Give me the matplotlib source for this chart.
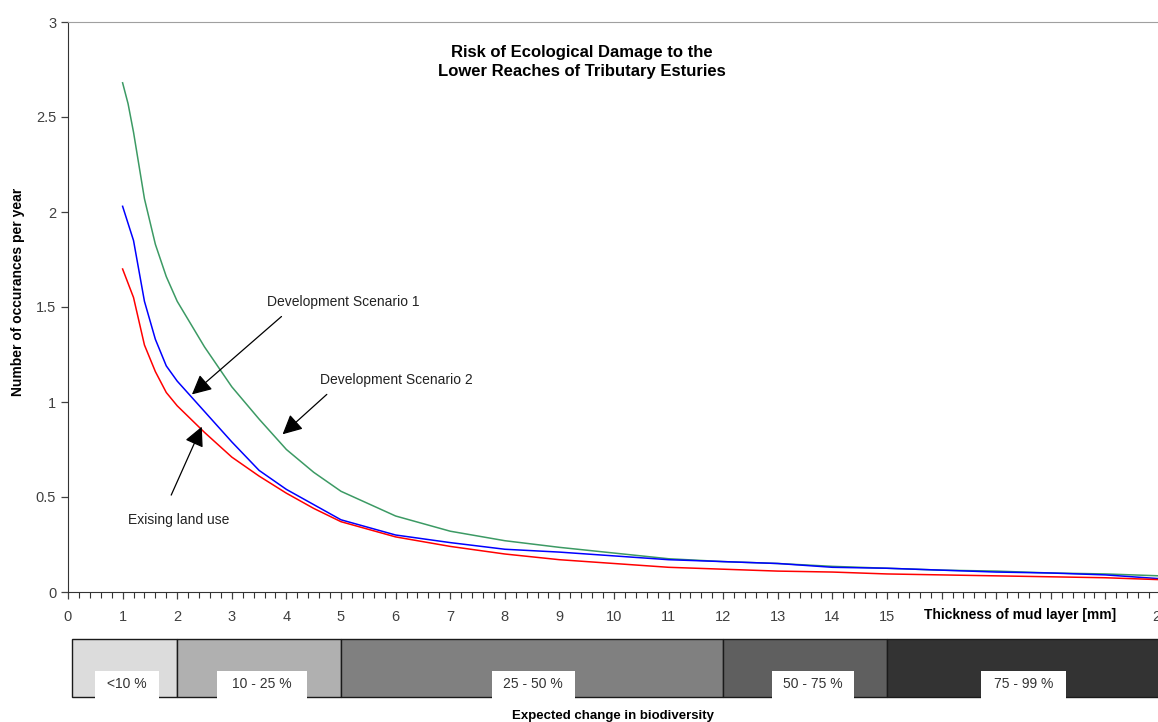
import matplotlib.pyplot as plt
from matplotlib.patches import Rectangle
from matplotlib.transforms import blended_transform_factory
import numpy as np

plt.rcParams['font.family'] = ['Liberation Sans', 'DejaVu Sans']

# mud thickness [mm] and occurrences per year
x_common = [1, 1.2, 1.4, 1.6, 1.8, 2, 2.5, 3, 3.5, 4, 4.5, 5,
            6, 7, 8, 9, 10, 11, 12, 13, 14, 15, 16, 17, 18, 19, 20]
existing = [1.70, 1.55, 1.30, 1.16, 1.05, 0.98, 0.84, 0.71, 0.61, 0.52, 0.44, 0.37,
            0.29, 0.24, 0.20, 0.17, 0.15, 0.13, 0.12, 0.11, 0.105, 0.095, 0.09, 0.085, 0.08, 0.075, 0.065]
scenario1 = [2.03, 1.85, 1.53, 1.33, 1.19, 1.11, 0.95, 0.79, 0.64, 0.54, 0.46, 0.38,
             0.30, 0.26, 0.225, 0.21, 0.19, 0.17, 0.16, 0.15, 0.13, 0.125, 0.115, 0.105, 0.10, 0.09, 0.07]
x_green = [1, 1.1, 1.2, 1.4, 1.6, 1.8, 2, 2.5, 3, 3.5, 4, 4.5, 5,
           6, 7, 8, 9, 10, 11, 12, 13, 14, 15, 16, 17, 18, 19, 20]
scenario2 = [2.68, 2.57, 2.42, 2.07, 1.83, 1.66, 1.53, 1.29, 1.08, 0.91, 0.75, 0.63, 0.53,
             0.40, 0.32, 0.27, 0.235, 0.205, 0.175, 0.16, 0.15, 0.135, 0.125, 0.115, 0.11, 0.10, 0.095, 0.085]

# biodiversity bands along the thickness axis
band_edges = [0.08, 2, 5, 12, 15, 20]
band_labels = ['<10 %', '10 - 25 %', '25 - 50 %', '50 - 75 %', '75 - 99 %']
band_colors = ['#dcdcdc', '#b0b0b0', '#808080', '#5f5f5f', '#333333']
label_spans = [(0.50, 1.67), (2.72, 4.38), (7.76, 9.28), (12.89, 14.39), (16.73, 18.27)]

W, H = 1158, 722
fig = plt.figure(figsize=(W / 100, H / 100), dpi=100)
ax = fig.add_axes([68 / W, 1 - 592 / H, 1092 / W, 570 / H])

ax.plot(x_green, scenario2, color='#3c9a64', lw=1.1)
ax.plot(x_common, scenario1, color='#0000ff', lw=1.1)
ax.plot(x_common, existing, color='#ff0000', lw=1.1)

ax.set_xlim(0, 20)
ax.set_ylim(0, 3)
ax.set_xticks(range(21))
ax.set_xticklabels([str(i) if i <= 15 or i == 20 else '' for i in range(21)])
ax.set_xticks(np.arange(0, 20.01, 0.2), minor=True)
ax.set_yticks([0, 0.5, 1, 1.5, 2, 2.5, 3])
ax.set_yticklabels(['0', '0.5', '1', '1.5', '2', '2.5', '3'])
ax.tick_params(axis='both', which='major', labelsize=10.5, colors='#404040', length=5, width=0.9)
ax.tick_params(axis='x', which='minor', length=4, width=0.8, color='#333333')
ax.tick_params(axis='x', pad=8)
ax.spines['right'].set_visible(False)
ax.spines['top'].set_color('#a0a0a0')
ax.spines['left'].set_color('#333333')
ax.spines['bottom'].set_color('#333333')

fig.text(582 / W, 1 - 62 / H, 'Risk of Ecological Damage to the\nLower Reaches of Tributary Esturies',
         ha='center', va='center', fontsize=12, fontweight='bold', linespacing=1.4)
fig.text(18 / W, 1 - 292 / H, 'Number of occurances per year', rotation=90,
         ha='center', va='center', fontsize=10, fontweight='bold')
fig.text(1020 / W, 1 - 615 / H, 'Thickness of mud layer [mm]',
         ha='center', va='center', fontsize=10, fontweight='bold')
fig.text(613 / W, 1 - 716 / H, 'Expected change in biodiversity',
         ha='center', va='center', fontsize=9.5, fontweight='bold')

arrow = dict(arrowstyle='-|>,head_length=0.7,head_width=0.35', color='black', lw=0.9,
             mutation_scale=17, shrinkA=0, shrinkB=0)
ax.annotate('', xy=(2.27, 1.04), xytext=(3.91, 1.45), arrowprops=arrow)
ax.annotate('', xy=(3.93, 0.83), xytext=(4.74, 1.04), arrowprops=arrow)
ax.annotate('', xy=(2.45, 0.87), xytext=(1.89, 0.51), arrowprops=arrow)
ax.text(3.64, 1.526, 'Development Scenario 1', ha='left', va='center', fontsize=10, color='#222222')
ax.text(4.62, 1.116, 'Development Scenario 2', ha='left', va='center', fontsize=10, color='#222222')
ax.text(1.10, 0.379, 'Exising land use', ha='left', va='center', fontsize=10, color='#222222')

# band strip below the axis
tr = blended_transform_factory(ax.transData, fig.transFigure)
band_top = 1 - 639 / H
band_bot = 1 - 697 / H
box_top = 1 - 671 / H
for i, lab in enumerate(band_labels):
    x0, x1 = band_edges[i], band_edges[i + 1]
    ax.add_patch(Rectangle((x0, band_bot), x1 - x0, band_top - band_bot, transform=tr,
                           facecolor=band_colors[i], edgecolor='#1a1a1a', lw=1.0, clip_on=False))
for (a, b), lab in zip(label_spans, band_labels):
    ax.add_patch(Rectangle((a, band_bot - 0.003), b - a, box_top - band_bot + 0.003, transform=tr,
                           facecolor='white', edgecolor='none', clip_on=False, zorder=5))
    ax.text((a + b) / 2, (box_top + band_bot) / 2, lab, transform=tr, ha='center', va='center',
            fontsize=10, color='#333333', zorder=6)

fig.savefig('out.png', dpi=100)
